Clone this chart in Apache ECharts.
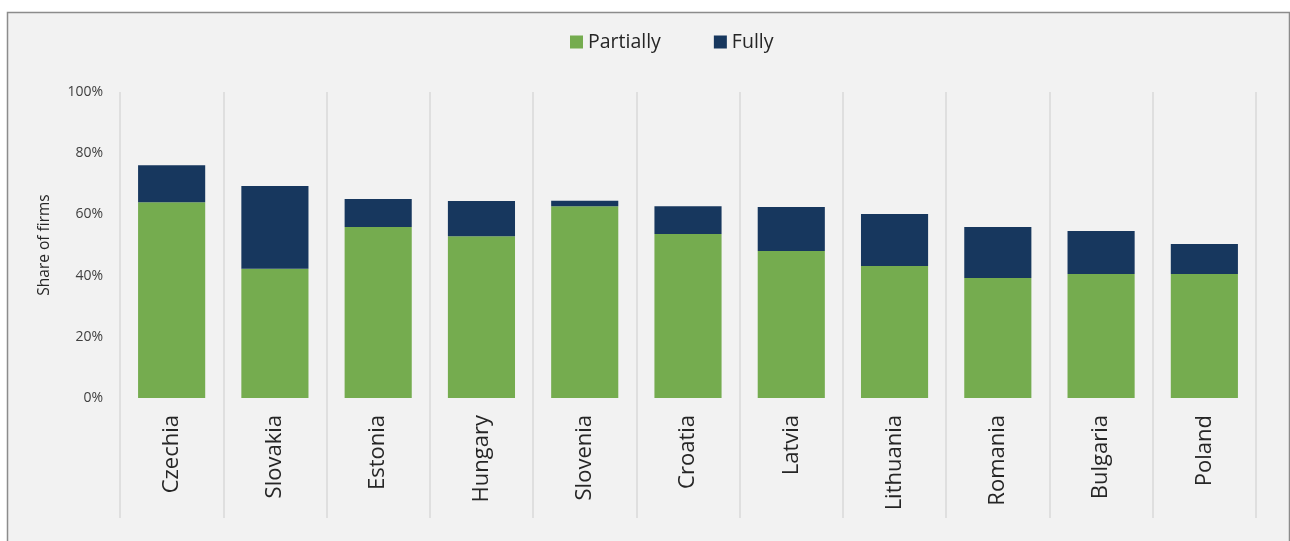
<!DOCTYPE html>
<html>
<head>
<meta charset="utf-8">
<script src="https://cdn.jsdelivr.net/npm/echarts@6/dist/echarts.min.js"></script>
<style>
    html, body { margin: 0; padding: 0; background: #ffffff; }
    #chart { width: 1290px; height: 541px; }
</style>
</head>
<body>
<div id="chart"></div>
<script>
    // data (share of firms, %)
    const countries = ['Czechia', 'Slovakia', 'Estonia', 'Hungary', 'Slovenia', 'Croatia', 'Latvia', 'Lithuania', 'Romania', 'Bulgaria', 'Poland'];
    const partially = [64.0, 42.2, 55.9, 52.9, 62.7, 53.6, 48.0, 43.1, 39.2, 40.5, 40.5];
    const fully = [12.1, 27.1, 9.1, 11.5, 1.8, 9.1, 14.4, 17.0, 16.7, 14.1, 9.8];
    const yTicks = [0, 20, 40, 60, 80, 100];

    const font = '"Open Sans", "Noto Sans", sans-serif';
    const myChart = echarts.init(document.getElementById('chart'));

    myChart.setOption({
        backgroundColor: '#ffffff',
        textStyle: { fontFamily: font },
        graphic: [{
            type: 'rect',
            z: -10,
            shape: { x: 7.5, y: 12.5, width: 1282, height: 540 },
            style: { fill: '#f2f2f2', stroke: '#8c8c8c', lineWidth: 1.5 }
        }],
        legend: {
            data: ['Partially', 'Fully'],
            top: 27,
            left: 565,
            itemWidth: 13,
            itemHeight: 13,
            itemGap: 53,
            icon: 'rect',
            textStyle: { fontSize: 19.5, color: '#262626', fontFamily: font }
        },
        grid: {
            left: 120,
            right: 34,
            top: 92,
            bottom: 143
        },
        xAxis: {
            type: 'category',
            data: countries,
            axisLine: { show: false },
            axisTick: {
                show: true,
                length: 120,
                lineStyle: { color: '#d9d9d9', width: 1.5 }
            },
            splitLine: {
                show: true,
                lineStyle: { color: '#d9d9d9', width: 1.5 }
            },
            axisLabel: {
                rotate: 90,
                margin: 17,
                fontSize: 22,
                color: '#262626',
                fontFamily: font
            }
        },
        yAxis: {
            type: 'value',
            min: yTicks[0],
            max: yTicks[yTicks.length - 1],
            interval: 20,
            name: 'Share of firms',
            nameLocation: 'middle',
            nameGap: 67,
            nameTextStyle: { fontSize: 15.5, color: '#262626', fontFamily: font },
            axisLine: { show: false },
            axisTick: { show: false },
            splitLine: { show: false },
            axisLabel: {
                formatter: '{value}%',
                fontSize: 14,
                color: '#404040',
                margin: 17,
                fontFamily: font
            }
        },
        series: [
            {
                name: 'Partially',
                type: 'bar',
                stack: 'total',
                barWidth: '65%',
                itemStyle: { color: '#75ac4f' },
                data: partially
            },
            {
                name: 'Fully',
                type: 'bar',
                stack: 'total',
                barWidth: '65%',
                itemStyle: { color: '#17375e' },
                data: fully
            }
        ]
    });
</script>
</body>
</html>
